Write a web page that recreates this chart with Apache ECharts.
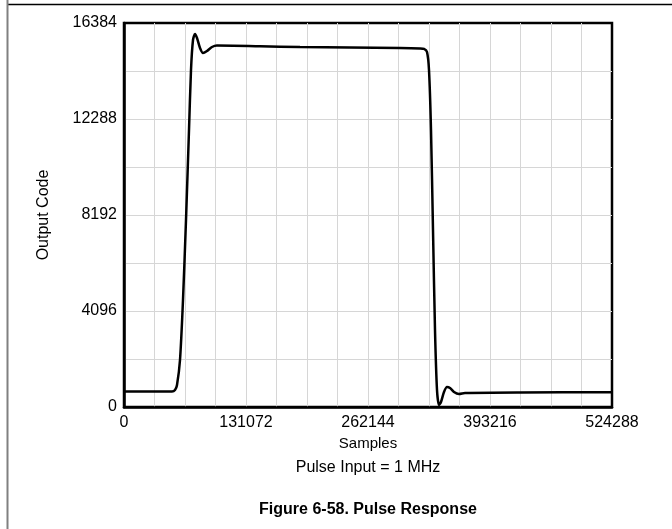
<!DOCTYPE html>
<html>
<head>
<meta charset="utf-8">
<script src="https://cdn.jsdelivr.net/npm/echarts@6/dist/echarts.min.js"></script>
<style>
  html, body { margin: 0; padding: 0; background: #fff; }
  #chart { width: 672px; height: 529px; }
</style>
</head>
<body>
<div id="chart"></div>
<script>
// samples (x) and output code (y)
var samples = [0, 51569, 54792, 56941, 60164, 63387, 66610, 69833, 71982, 74131, 76280,
  78428, 81651, 84874, 89172, 94544, 99915, 146113, 189087, 242805, 296523, 318011,
  322308, 325531, 327680, 329829, 331977, 334126, 336275, 338423, 340572, 343795,
  347018, 350241, 354539, 359911, 366357, 425447, 524288];
var outputCode = [660, 660, 725, 939, 2005, 4565, 7979, 11819, 14379, 15659, 15915,
  15744, 15317, 15104, 15189, 15360, 15420, 15390, 15360, 15339, 15317, 15296,
  15275, 15147, 14379, 11819, 7552, 3285, 725, 85, 213, 640,
  853, 811, 640, 555, 597, 620, 630];

var xTicks = [0, 131072, 262144, 393216, 524288];
var yTicks = [0, 4096, 8192, 12288, 16384];

var points = [];
for (var i = 0; i < samples.length; i++) {
  points.push([samples[i], outputCode[i]]);
}

var font = 'Liberation Sans, Arial, sans-serif';
var chart = echarts.init(document.getElementById('chart'), null, { renderer: 'canvas' });

function plain(v) {
  return String(v);
}

var option = {
  backgroundColor: '#fff',
  animation: false,
  grid: {
    left: 124, right: 60, top: 23, bottom: 122,
    show: true, borderColor: '#000', borderWidth: 2.5, backgroundColor: 'transparent'
  },
  xAxis: {
    type: 'value',
    min: xTicks[0],
    max: xTicks[xTicks.length - 1],
    interval: xTicks[1] - xTicks[0],
    name: 'Samples',
    nameLocation: 'middle',
    nameGap: 26,
    nameTextStyle: { color: '#000', fontSize: 15, fontFamily: font },
    axisLine: { show: true, lineStyle: { color: '#000', width: 2.5 } },
    axisTick: { show: false },
    axisLabel: { color: '#000', fontSize: 16, fontFamily: font, margin: 8, formatter: plain },
    splitLine: { show: true, showMinLine: false, showMaxLine: false, lineStyle: { color: '#d6d6d6', width: 1 } },
    minorTick: { show: false, splitNumber: 4 },
    minorSplitLine: { show: true, lineStyle: { color: '#d6d6d6', width: 1 } }
  },
  yAxis: {
    type: 'value',
    min: yTicks[0],
    max: yTicks[yTicks.length - 1],
    interval: yTicks[1] - yTicks[0],
    name: 'Output Code',
    nameLocation: 'middle',
    nameGap: 72,
    nameTextStyle: { color: '#000', fontSize: 16, fontFamily: font },
    axisLine: { show: true, lineStyle: { color: '#000', width: 2.5 } },
    axisTick: { show: false },
    axisLabel: { color: '#000', fontSize: 16, fontFamily: font, margin: 7, formatter: plain },
    splitLine: { show: true, showMinLine: false, showMaxLine: false, lineStyle: { color: '#d6d6d6', width: 1 } },
    minorTick: { show: false, splitNumber: 2 },
    minorSplitLine: { show: true, lineStyle: { color: '#d6d6d6', width: 1 } }
  },
  series: [{
    type: 'line',
    data: points,
    showSymbol: false,
    smooth: 0.25,
    lineStyle: { color: '#000', width: 2.5 },
    z: 5
  }],
  graphic: [
    // page frame lines
    { type: 'line', shape: { x1: 8, y1: 4.5, x2: 672, y2: 4.5 }, style: { stroke: '#000', lineWidth: 1.5 } },
    { type: 'line', shape: { x1: 7.5, y1: 0, x2: 7.5, y2: 529 }, style: { stroke: '#808080', lineWidth: 2 } },
    {
      type: 'text', x: 368, y: 468,
      style: { text: 'Pulse Input = 1 MHz', fill: '#000', font: '16px ' + font, textAlign: 'center', textVerticalAlign: 'middle' }
    },
    {
      type: 'text', x: 368, y: 510,
      style: { text: 'Figure 6-58. Pulse Response', fill: '#000', font: 'bold 16px ' + font, textAlign: 'center', textVerticalAlign: 'middle' }
    }
  ]
};
chart.setOption(option);
</script>
</body>
</html>
